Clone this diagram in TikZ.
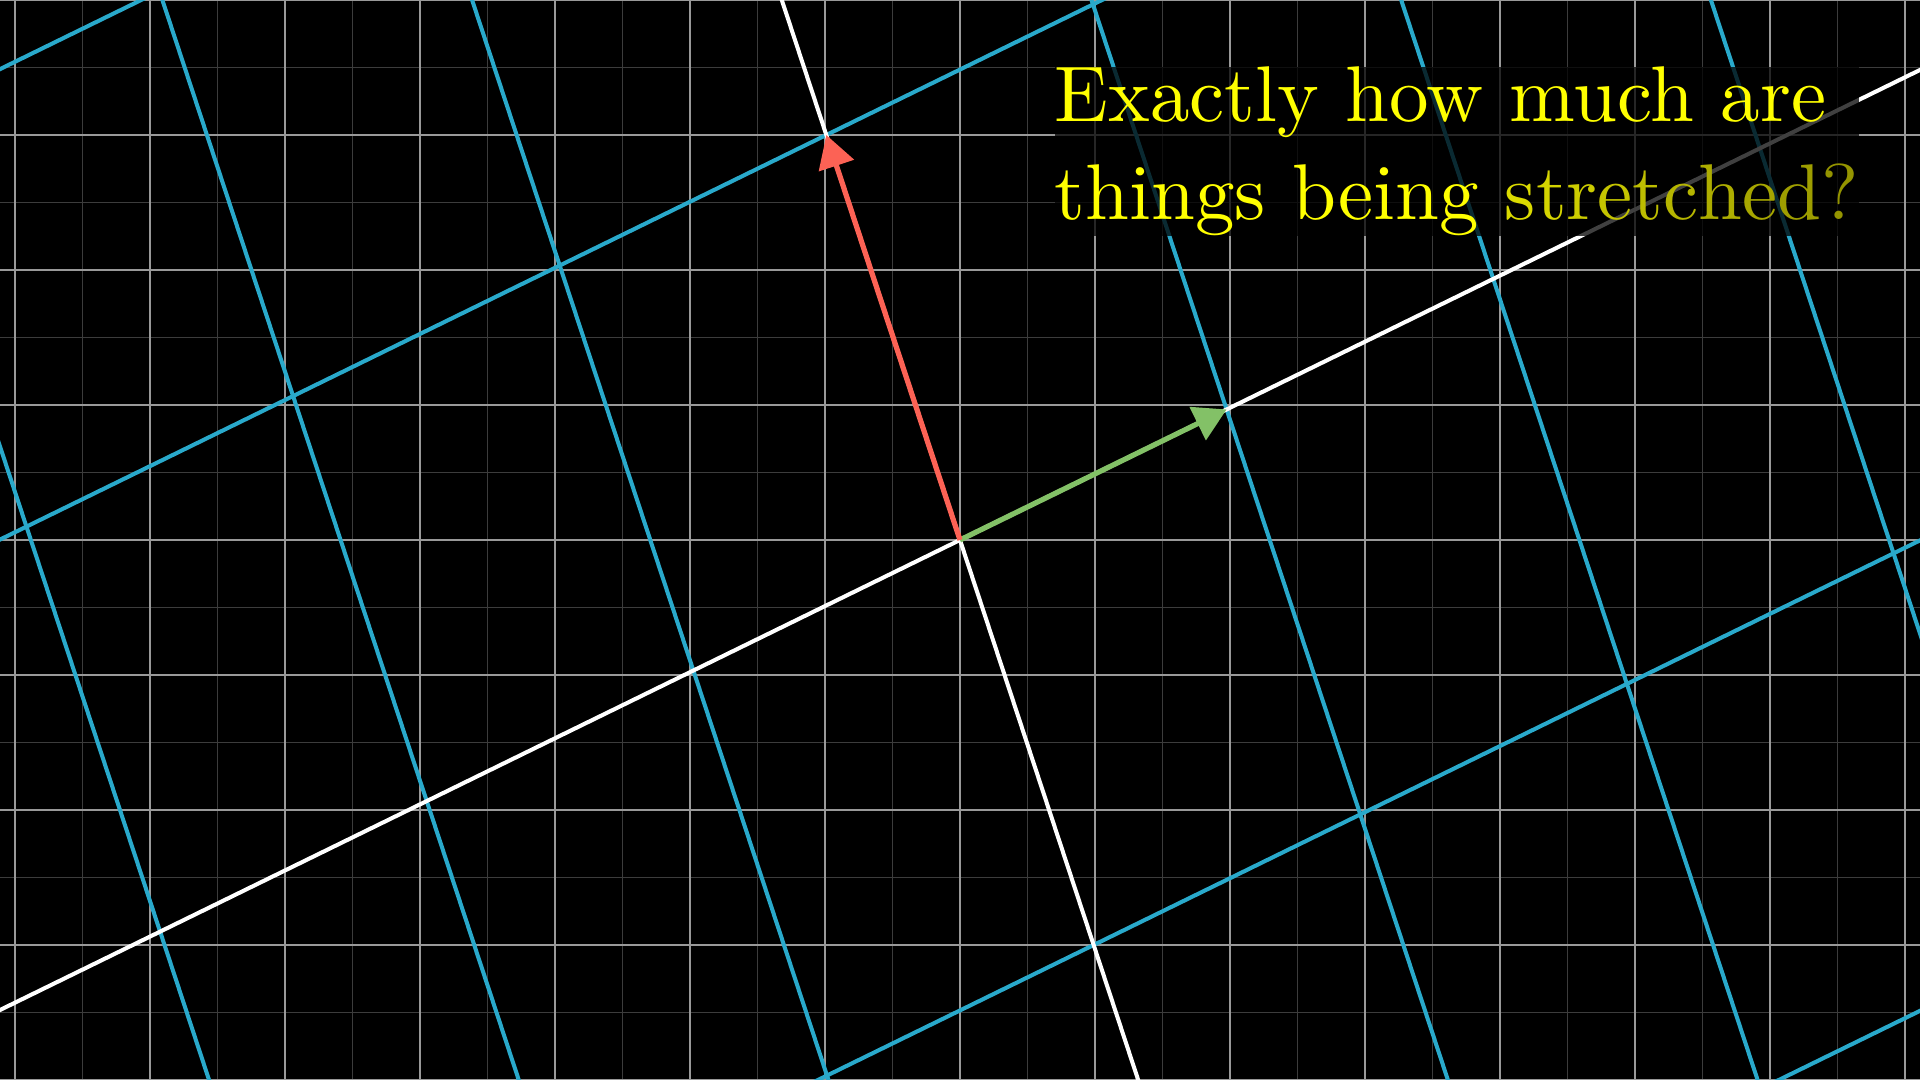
\documentclass[tikz,border=0pt]{standalone}
\usetikzlibrary{arrows.meta}
\definecolor{gridmain}{HTML}{999999}
\definecolor{gridhalf}{HTML}{3C3C3C}
\definecolor{tblue}{HTML}{29A9CB}
\definecolor{vred}{HTML}{FC6255}
\definecolor{vgreen}{HTML}{83C167}
\definecolor{qyellow}{HTML}{FFFF00}
\begin{document}
\begin{tikzpicture}[x=1cm,y=1cm,
  halfline/.style={draw=gridhalf,line width=0.38pt},
  mainline/.style={draw=gridmain,line width=0.5pt},
  tline/.style={draw=tblue,line width=0.85pt},
  axisline/.style={draw=white,line width=0.85pt},
  vec/.style={line width=1.1pt,-{Triangle[length=6.8pt,width=7.6pt]}},
  question/.style={anchor=north west,inner sep=0pt,fill=black,fill opacity=0.75,
    text opacity=1,text=qyellow,align=left,scale=1.665,
    font=\fontsize{10}{12.4}\selectfont}
]
% images of the basis vectors
\def\ix{1.975}\def\iy{0.967}
\def\jx{-0.99}\def\jy{3.0}
\fill[black] (-7.1111,-4) rectangle (7.1111,4);
\useasboundingbox (-7.1111,-4) rectangle (7.1111,4);
\begin{scope}
\clip (-7.1111,-4) rectangle (7.1111,4);
\foreach \x in {-7.5,-6.5,...,7.5} \draw[halfline] (\x,-4.2) -- (\x,4.2);
\foreach \y in {-3.5,-2.5,...,3.5} \draw[halfline] (-7.3,\y) -- (7.3,\y);
\foreach \x in {-7,...,7} \draw[mainline] (\x,-4.2) -- (\x,4.2);
\foreach \y in {-4,...,4} \draw[mainline] (-7.3,\y) -- (7.3,\y);
% transformed grid lines
\foreach \n in {-4,-3,-2,-1,1,2,3,4}
  \draw[tline] ({\n*\jx+8*\ix},{\n*\jy+8*\iy}) -- ({\n*\jx-8*\ix},{\n*\jy-8*\iy});
\foreach \m in {-6,-5,-4,-3,-2,-1,1,2,3,4,5,6}
  \draw[tline] ({\m*\ix+4*\jx},{\m*\iy+4*\jy}) -- ({\m*\ix-4*\jx},{\m*\iy-4*\jy});
% transformed axes
\draw[axisline] ({-8*\ix},{-8*\iy}) -- ({8*\ix},{8*\iy});
\draw[axisline] ({-4*\jx},{-4*\jy}) -- ({4*\jx},{4*\jy});
\end{scope}
\coordinate (O) at (0,0);
\coordinate (I) at (\ix,\iy);
\coordinate (J) at (\jx,\jy);
\draw[vec,vgreen] (O) -- (I);
\draw[vec,vred] (O) -- (J);
\node[question] (q) at (0.689,3.519) {Exactly how much are\\things being
\textcolor{qyellow!86!black}{s}\textcolor{qyellow!83!black}{t}\textcolor{qyellow!80!black}{r}\textcolor{qyellow!77!black}{e}\textcolor{qyellow!74!black}{t}\textcolor{qyellow!71!black}{c}\textcolor{qyellow!68!black}{h}\textcolor{qyellow!65!black}{e}\textcolor{qyellow!62!black}{d}\textcolor{qyellow!58!black}{?}};
\end{tikzpicture}
\end{document}
